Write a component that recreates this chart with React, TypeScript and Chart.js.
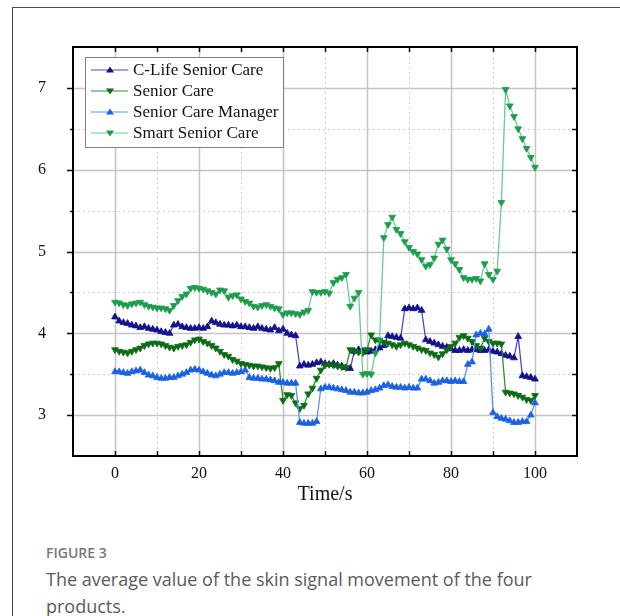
import React, { useEffect, useRef } from "react";
import { Chart, registerables } from "chart.js";
Chart.register(...registerables);

const TIMES = Array.from({ length: 101 }, (_, i) => i);
const X_TICKS = [0, 20, 40, 60, 80, 100];
const X_MINOR = [10, 30, 50, 70, 90];
const Y_TICKS = [3, 4, 5, 6, 7];
const Y_MINOR = [3.5, 4.5, 5.5, 6.5];

const SERIES_NAMES = ["C-Life Senior Care", "Senior Care", "Senior Care Manager", "Smart Senior Care"];

const C_LIFE = [
  4.2, 4.15, 4.13, 4.12, 4.1, 4.09, 4.07, 4.08, 4.06, 4.05,
  4.04, 4.02, 4.01, 4.0, 4.1, 4.11, 4.08, 4.07, 4.06, 4.06,
  4.07, 4.06, 4.08, 4.15, 4.13, 4.11, 4.1, 4.1, 4.09, 4.1,
  4.08, 4.08, 4.07, 4.06, 4.08, 4.06, 4.05, 4.04, 4.07, 4.03,
  4.05, 4.0, 3.98, 3.97, 3.6, 3.62, 3.61, 3.62, 3.64, 3.65,
  3.63, 3.62, 3.63, 3.61, 3.6, 3.58, 3.57, 3.78, 3.8, 3.78,
  3.77, 3.78, 3.8, 3.82, 3.85, 3.97, 3.96, 3.95, 3.94, 4.3,
  4.31, 4.3, 4.31, 4.28, 3.92, 3.9, 3.88, 3.86, 3.84, 3.83,
  3.81, 3.79, 3.79, 3.8, 3.79, 3.8, 3.8, 3.79, 3.79, 3.8,
  3.78, 3.77, 3.75, 3.73, 3.72, 3.7, 3.96, 3.48, 3.47, 3.46,
  3.44,
];

const SENIOR_CARE = [
  3.8, 3.78, 3.77, 3.76, 3.78, 3.8, 3.82, 3.85, 3.87, 3.88,
  3.88, 3.87, 3.85, 3.83, 3.82, 3.84, 3.85, 3.86, 3.89, 3.92,
  3.93, 3.9, 3.88, 3.85, 3.82, 3.78, 3.74, 3.72, 3.68, 3.66,
  3.63, 3.62, 3.61, 3.6, 3.6, 3.59, 3.58, 3.57, 3.58, 3.63,
  3.18, 3.25, 3.24, 3.15, 3.08, 3.12, 3.26, 3.33, 3.45, 3.55,
  3.61, 3.62, 3.61, 3.6, 3.59, 3.58, 3.8, 3.78, 3.77, 3.76,
  3.8, 3.98, 3.92, 3.9, 3.89, 3.88, 3.86, 3.84, 3.86, 3.88,
  3.86, 3.84, 3.82, 3.8, 3.79, 3.76, 3.74, 3.71, 3.75, 3.8,
  3.84, 3.88, 3.95, 3.97, 3.94, 3.9, 3.85, 3.82, 3.94, 3.9,
  3.88, 3.88, 3.87, 3.28, 3.27, 3.26, 3.24, 3.22, 3.19, 3.18,
  3.24,
];

const SENIOR_CARE_MANAGER = [
  3.53, 3.53, 3.52, 3.51, 3.53, 3.54, 3.55, 3.52, 3.49, 3.48,
  3.46, 3.45, 3.45, 3.46, 3.46, 3.48, 3.5, 3.52, 3.55, 3.56,
  3.55, 3.53, 3.51, 3.49, 3.48, 3.5, 3.52, 3.52, 3.51, 3.52,
  3.53, 3.55, 3.46, 3.45, 3.45, 3.44, 3.44, 3.43, 3.42, 3.4,
  3.4, 3.39, 3.39, 3.39, 2.91, 2.9, 2.9, 2.9, 2.92, 3.32,
  3.34, 3.34, 3.33, 3.32, 3.31, 3.3, 3.28, 3.28, 3.27, 3.27,
  3.28, 3.3, 3.31, 3.33, 3.36, 3.37, 3.35, 3.34, 3.34, 3.33,
  3.34, 3.33, 3.33, 3.44, 3.44, 3.42, 3.39, 3.4, 3.42, 3.42,
  3.41, 3.42, 3.41, 3.41, 3.62, 3.65, 3.98, 4.0, 3.99, 4.05,
  3.03, 2.98, 2.96, 2.95, 2.93, 2.91, 2.91, 2.92, 2.92, 3.0,
  3.15,
];

const SMART_SENIOR_CARE = [
  4.38, 4.37, 4.35, 4.34, 4.36, 4.37, 4.38, 4.35, 4.33, 4.32,
  4.31, 4.31, 4.3, 4.28, 4.34, 4.4, 4.45, 4.48, 4.55, 4.56,
  4.55, 4.54, 4.52, 4.5, 4.48, 4.53, 4.52, 4.44, 4.46, 4.47,
  4.42, 4.39, 4.37, 4.33, 4.32, 4.34, 4.35, 4.33, 4.31, 4.3,
  4.23, 4.25, 4.25, 4.24, 4.23, 4.26, 4.28, 4.51, 4.5, 4.5,
  4.51, 4.49, 4.62, 4.66, 4.68, 4.72, 4.33, 4.43, 4.5, 3.5,
  3.51, 3.5, 3.76, 3.92, 5.17, 5.33, 5.42, 5.27, 5.22, 5.12,
  5.05, 5.0, 4.97, 4.9, 4.82, 4.84, 4.92, 5.09, 5.14, 5.03,
  4.9, 4.85, 4.78, 4.68, 4.66, 4.66, 4.67, 4.64, 4.85, 4.72,
  4.66, 4.76, 5.6, 6.98, 6.78, 6.65, 6.5, 6.38, 6.26, 6.15,
  6.03,
];

const SERIES_VALUES = [C_LIFE, SENIOR_CARE, SENIOR_CARE_MANAGER, SMART_SENIOR_CARE];
const LINE_COLORS = ["#4a4ac0", "#2f8f34", "#5b93f2", "#66cc94"];
const MARKER_COLORS = ["#12128c", "#0d6b16", "#1b62e2", "#1d9c4c"];
const MARKER_DOWN = [false, true, false, true];

const SERIF = "'Liberation Serif', 'DejaVu Serif', serif";

const framePlugin = {
  id: "frameGrid",
  beforeDatasetsDraw(chart: any) {
    const { ctx, chartArea, scales } = chart;
    const { left, right, top, bottom } = chartArea;
    const xs = scales.x;
    const ys = scales.y;
    ctx.save();
    ctx.strokeStyle = "#c4c4c4";
    ctx.lineWidth = 1.5;
    ctx.setLineDash([]);
    X_TICKS.forEach((v) => {
      const p = Math.round(xs.getPixelForValue(v)) + 0.5;
      ctx.beginPath();
      ctx.moveTo(p, top);
      ctx.lineTo(p, bottom);
      ctx.stroke();
    });
    Y_TICKS.forEach((v) => {
      const p = Math.round(ys.getPixelForValue(v)) + 0.5;
      ctx.beginPath();
      ctx.moveTo(left, p);
      ctx.lineTo(right, p);
      ctx.stroke();
    });
    ctx.strokeStyle = "#cfcfcf";
    ctx.lineWidth = 1;
    ctx.setLineDash([2, 3]);
    X_MINOR.forEach((v) => {
      const p = Math.round(xs.getPixelForValue(v)) + 0.5;
      ctx.beginPath();
      ctx.moveTo(p, top);
      ctx.lineTo(p, bottom);
      ctx.stroke();
    });
    Y_MINOR.forEach((v) => {
      const p = Math.round(ys.getPixelForValue(v)) + 0.5;
      ctx.beginPath();
      ctx.moveTo(left, p);
      ctx.lineTo(right, p);
      ctx.stroke();
    });
    ctx.restore();
  },
  afterDraw(chart: any) {
    const { ctx, chartArea, scales } = chart;
    const { left, right, top, bottom } = chartArea;
    const xs = scales.x;
    const ys = scales.y;
    ctx.save();
    ctx.setLineDash([]);
    ctx.strokeStyle = "#111";
    ctx.lineWidth = 1.5;
    const allX = [...X_TICKS, ...X_MINOR];
    allX.forEach((v) => {
      const p = Math.round(xs.getPixelForValue(v)) + 0.5;
      ctx.beginPath();
      ctx.moveTo(p, bottom);
      ctx.lineTo(p, bottom - 5);
      ctx.moveTo(p, top);
      ctx.lineTo(p, top + 5);
      ctx.stroke();
    });
    Y_TICKS.forEach((v) => {
      const p = Math.round(ys.getPixelForValue(v)) + 0.5;
      ctx.beginPath();
      ctx.moveTo(left, p);
      ctx.lineTo(left - 6, p);
      ctx.moveTo(right, p);
      ctx.lineTo(right - 5, p);
      ctx.stroke();
    });
    Y_MINOR.forEach((v) => {
      const p = Math.round(ys.getPixelForValue(v)) + 0.5;
      ctx.beginPath();
      ctx.moveTo(left, p);
      ctx.lineTo(left - 3, p);
      ctx.moveTo(right, p);
      ctx.lineTo(right - 5, p);
      ctx.stroke();
    });
    ctx.lineWidth = 2;
    ctx.strokeStyle = "#000";
    ctx.strokeRect(left, top, right - left, bottom - top);

    // legend
    const lx = left + 12;
    const ly = top + 10;
    const lw = 198;
    const lh = 90;
    ctx.fillStyle = "#fff";
    ctx.fillRect(lx, ly, lw, lh);
    ctx.strokeStyle = "#808080";
    ctx.lineWidth = 1;
    ctx.strokeRect(lx + 0.5, ly + 0.5, lw, lh);
    ctx.font = `17px ${SERIF}`;
    ctx.textBaseline = "middle";
    ctx.textAlign = "left";
    chart.data.datasets.forEach((ds: any, i: number) => {
      const cy = ly + 13 + i * 21;
      ctx.strokeStyle = LINE_COLORS[i];
      ctx.lineWidth = 1.2;
      ctx.beginPath();
      ctx.moveTo(lx + 6, cy);
      ctx.lineTo(lx + 43, cy);
      ctx.stroke();
      const mx = lx + 25;
      const r = 4;
      ctx.fillStyle = MARKER_COLORS[i];
      ctx.beginPath();
      if (MARKER_DOWN[i]) {
        ctx.moveTo(mx - r, cy - r * 0.6);
        ctx.lineTo(mx + r, cy - r * 0.6);
        ctx.lineTo(mx, cy + r * 0.9);
      } else {
        ctx.moveTo(mx - r, cy + r * 0.6);
        ctx.lineTo(mx + r, cy + r * 0.6);
        ctx.lineTo(mx, cy - r * 0.9);
      }
      ctx.closePath();
      ctx.fill();
      ctx.fillStyle = "#111";
      ctx.fillText(ds.label, lx + 48, cy + 1);
    });
    ctx.restore();
  },
};

export default function App() {
  const canvasRef = useRef<HTMLCanvasElement | null>(null);

  useEffect(() => {
    const canvas = canvasRef.current;
    if (!canvas) return;
    const datasets = SERIES_NAMES.map((name, i) => ({
      label: name,
      data: TIMES.map((t, j) => ({ x: t, y: SERIES_VALUES[i][j] })),
      borderColor: LINE_COLORS[i],
      backgroundColor: MARKER_COLORS[i],
      borderWidth: 1.3,
      pointStyle: "triangle",
      pointRotation: MARKER_DOWN[i] ? 180 : 0,
      pointRadius: 3.9,
      pointBackgroundColor: MARKER_COLORS[i],
      pointBorderColor: MARKER_COLORS[i],
      pointBorderWidth: 0.8,
      tension: 0,
      fill: false,
      order: 4 - i,
    }));
    const chart = new Chart(canvas, {
      type: "line",
      data: { datasets },
      options: {
        animation: false,
        responsive: false,
        maintainAspectRatio: false,
        layout: { padding: { top: 47, right: 43, left: 0, bottom: 0 } },
        plugins: {
          legend: { display: false },
          tooltip: { enabled: false },
        },
        scales: {
          x: {
            type: "linear",
            min: -10,
            max: 110,
            afterFit: (s: any) => {
              s.height = 52;
            },
            afterBuildTicks: (s: any) => {
              s.ticks = X_TICKS.map((v) => ({ value: v }));
            },
            grid: { display: false, drawTicks: false },
            border: { display: false },
            ticks: {
              padding: 8,
              color: "#111",
              font: { family: SERIF, size: 16 },
              maxRotation: 0,
            },
            title: {
              display: true,
              text: "Time/s",
              color: "#111",
              font: { family: SERIF, size: 20 },
              padding: { top: 0, bottom: 1 },
            },
          },
          y: {
            type: "linear",
            min: 2.5,
            max: 7.5,
            afterFit: (s: any) => {
              s.width = 73;
            },
            afterBuildTicks: (s: any) => {
              s.ticks = Y_TICKS.map((v) => ({ value: v }));
            },
            grid: { display: false, drawTicks: false },
            border: { display: false },
            ticks: {
              padding: 27,
              color: "#111",
              font: { family: SERIF, size: 16 },
            },
          },
        },
      },
      plugins: [framePlugin],
    } as any);
    return () => chart.destroy();
  }, []);

  return (
    <div
      style={{
        position: "absolute",
        left: 0,
        top: 0,
        width: 620,
        height: 616,
        background: "#fff",
        overflow: "hidden",
      }}
    >
      <div
        style={{
          position: "absolute",
          left: 12,
          top: 7,
          width: 640,
          height: 640,
          borderTop: "1.5px solid #4a4a4a",
          borderLeft: "1.5px solid #4a4a4a",
        }}
      />
      <canvas
        ref={canvasRef}
        width={620}
        height={508}
        style={{ position: "absolute", left: 0, top: 0, width: 620, height: 508 }}
      />
      <div
        style={{
          position: "absolute",
          left: 46,
          top: 543,
          fontFamily: "'Open Sans', 'Noto Sans', sans-serif",
          fontSize: 14,
          fontWeight: 600,
          color: "#777",
          lineHeight: "20px",
        }}
      >
        FIGURE 3
      </div>
      <div
        style={{
          position: "absolute",
          left: 46,
          top: 566,
          width: 500,
          fontFamily: "'Open Sans', 'Noto Sans', sans-serif",
          fontSize: 18,
          fontWeight: 400,
          color: "#5a5a5a",
          lineHeight: "27px",
        }}
      >
        The average value of the skin signal movement of the four products.
      </div>
    </div>
  );
}
